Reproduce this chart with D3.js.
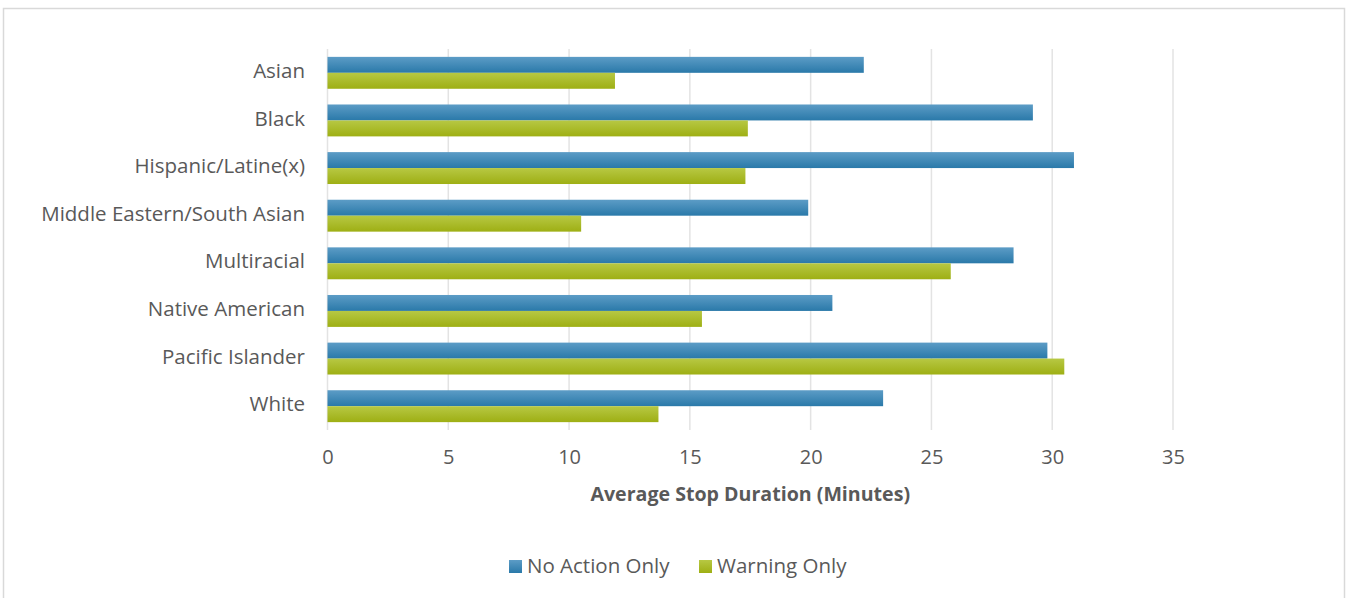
<!DOCTYPE html>
<html>
<head>
<meta charset="utf-8">
<script src="https://cdn.jsdelivr.net/npm/d3@7"></script>
<style>
  body { margin: 0; background: #fff; }
  text { font-family: "Open Sans", sans-serif; fill: #595959; }
</style>
</head>
<body>
<div id="chart"></div>
<script>
var categories = ["Asian", "Black", "Hispanic/Latine(x)", "Middle Eastern/South Asian",
                  "Multiracial", "Native American", "Pacific Islander", "White"];
var seriesNames = ["No Action Only", "Warning Only"];
var noAction = [22.2, 29.2, 30.9, 19.9, 28.4, 20.9, 29.8, 23.0];
var warning = [11.9, 17.4, 17.3, 10.5, 25.8, 15.5, 30.5, 13.7];
var xTicks = [0, 5, 10, 15, 20, 25, 30, 35];

var width = 1348, height = 598;
var margin = {left: 327.5, right: 175, top: 49, bottom: 168};

var svg = d3.select("#chart").append("svg")
    .attr("width", width)
    .attr("height", height);

// gradients for bars and legend
var defs = svg.append("defs");
var grads = [["gradBlue", "#5c9cc6", "#2a79a9"], ["gradGreen", "#b7c843", "#9eaf14"]];
grads.forEach(function (g) {
    var lg = defs.append("linearGradient").attr("id", g[0])
        .attr("x1", 0).attr("y1", 0).attr("x2", 0).attr("y2", 1);
    lg.append("stop").attr("offset", "0%").attr("stop-color", g[1]);
    lg.append("stop").attr("offset", "100%").attr("stop-color", g[2]);
});

// outer border
svg.append("rect")
    .attr("x", 3.5).attr("y", 8.5)
    .attr("width", 1341).attr("height", 600)
    .attr("fill", "none")
    .attr("stroke", "#d9d9d9")
    .attr("stroke-width", 1.5);

var x = d3.scaleLinear()
    .domain([0, 35])
    .range([margin.left, width - margin.right]);

var y = d3.scaleBand()
    .domain(categories)
    .range([margin.top, height - margin.bottom])
    .paddingInner(0.33)
    .paddingOuter(0.165);

var ySub = d3.scaleBand()
    .domain(seriesNames)
    .range([0, y.bandwidth()]);

// gridlines
svg.append("g")
    .selectAll("line")
    .data(xTicks)
    .enter().append("line")
    .attr("x1", d => x(d)).attr("x2", d => x(d))
    .attr("y1", margin.top).attr("y2", height - margin.bottom)
    .attr("stroke", "#e3e3e3")
    .attr("stroke-width", 1.5);

// bars
var rows = categories.map((c, i) => ({cat: c, vals: [noAction[i], warning[i]]}));
var groups = svg.append("g")
    .selectAll("g")
    .data(rows)
    .enter().append("g")
    .attr("transform", d => "translate(0," + y(d.cat) + ")");

groups.selectAll("rect")
    .data(d => d.vals.map((v, j) => ({name: seriesNames[j], value: v, j: j})))
    .enter().append("rect")
    .attr("x", x(0))
    .attr("y", d => ySub(d.name))
    .attr("width", d => x(d.value) - x(0))
    .attr("height", ySub.bandwidth())
    .attr("fill", d => d.j === 0 ? "url(#gradBlue)" : "url(#gradGreen)");

// category labels
svg.append("g")
    .selectAll("text")
    .data(categories)
    .enter().append("text")
    .attr("x", 305)
    .attr("y", d => y(d) + y.bandwidth() / 2 - 2)
    .attr("dy", "0.35em")
    .attr("text-anchor", "end")
    .style("font-size", "20.5px")
    .text(d => d);

// x tick labels
var xAxis = d3.axisBottom(x).tickValues(xTicks).tickSize(0).tickPadding(20);
var axisG = svg.append("g")
    .attr("transform", "translate(0," + (height - margin.bottom) + ")")
    .call(xAxis);
axisG.select(".domain").remove();
axisG.selectAll("text")
    .style("font-family", "'Open Sans', sans-serif")
    .style("font-size", "20px")
    .attr("fill", "#595959");

// axis title
svg.append("text")
    .attr("x", (x(0) + x(35)) / 2)
    .attr("y", 501)
    .attr("text-anchor", "middle")
    .style("font-size", "19.6px")
    .style("font-weight", "bold")
    .text("Average Stop Duration (Minutes)");

// legend
var legend = svg.append("g").attr("transform", "translate(509,566)");
var legendX = [0, 190];
seriesNames.forEach(function (s, j) {
    var lg = legend.append("g").attr("transform", "translate(" + legendX[j] + ",0)");
    lg.append("rect")
        .attr("x", 0).attr("y", -6)
        .attr("width", 13).attr("height", 13)
        .attr("fill", j === 0 ? "url(#gradBlue)" : "url(#gradGreen)");
    lg.append("text")
        .attr("x", 18).attr("y", 0)
        .attr("dy", "0.35em")
        .style("font-size", "20.5px")
        .text(s);
});
</script>
</body>
</html>
